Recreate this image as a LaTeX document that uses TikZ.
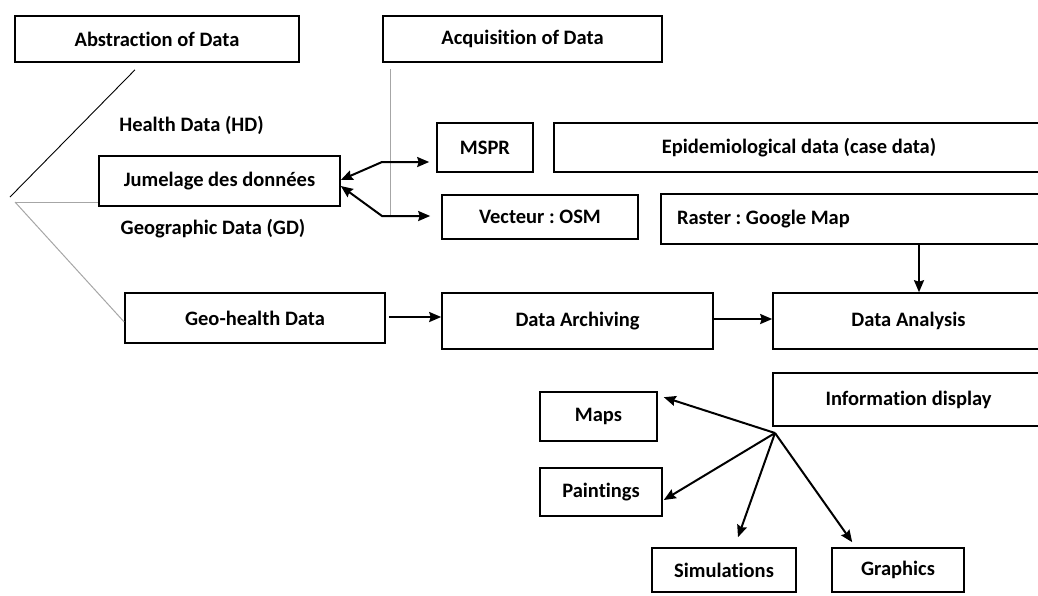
\documentclass[tikz,border=0pt]{standalone}
\usepackage{fontspec}
\setmainfont{Carlito}[Ligatures=NoCommon]
\usetikzlibrary{arrows.meta}

\begin{document}
\begin{tikzpicture}[x=1pt, y=-1pt, >={Stealth[length=12pt, width=10pt, inset=1.5pt]}, node distance=100pt,
	box/.style={draw=black, line width=1.6pt, rectangle, inner sep=0pt, align=center, font=\frenchspacing\bfseries\fontsize{20.5}{24}\selectfont},
	plain/.style={inner sep=0pt, font=\frenchspacing\bfseries\fontsize{20.5}{24}\selectfont},
	link/.style={->, line width=2pt},
	thinline/.style={line width=0.9pt, black},
	greyline/.style={line width=1pt, gray!70}]
	\useasboundingbox (0,0) rectangle (1038,595);

	\node[box, minimum width=284pt, minimum height=46pt] (abstraction) at (157,39) {Abstraction of Data};
	\node[box, minimum width=279pt, minimum height=46pt] (acquisition) [right of=abstraction, node distance=365.5pt] {Acquisition of Data};
	\node[plain] (health) at (191.5,125) {Health Data (HD)};
	\node[box, minimum width=241pt, minimum height=50pt] (jumelage) at (219.5,181) {Jumelage des données};
	\node[plain] (geographic) at (213,229) {Geographic Data (GD)};

	\node[box, minimum width=96pt, minimum height=49pt] (mspr) at (485,147.5) {MSPR};
	\node[box, minimum width=490pt, minimum height=49pt] (epidemio) [right of=mspr, node distance=314pt] {Epidemiological data (case data)};
	\node[box, minimum width=196pt, minimum height=44pt] (vecteur) at (540,217) {Vecteur : OSM};
	\node[box, minimum height=50pt, inner xsep=16pt, text width=351pt, align=flush left] (raster) at (852.5,219) {Raster : Google Map};

	\node[box, minimum width=260pt, minimum height=50pt] (geohealth) at (255,318) {Geo-health Data};
	\node[box, minimum width=271pt, minimum height=56pt] (archiving) at (577.5,321) {Data Archiving};
	\node[box, minimum width=271pt, minimum height=56pt] (analysis) [right of=archiving, node distance=331pt] {Data Analysis};
	\node[box, minimum width=271pt, minimum height=53pt] (display) [below of=analysis, node distance=78.5pt] {Information display};

	\node[box, minimum width=117pt, minimum height=49pt] (maps) at (598.5,416.5) {Maps};
	\node[box, minimum width=122pt, minimum height=48pt] (paintings) at (601,492) {Paintings};
	\node[box, minimum width=144pt, minimum height=44pt] (simulations) at (724,570) {Simulations};
	\node[box, minimum width=132pt, minimum height=44pt] (graphics) [right of=simulations, node distance=174pt] {Graphics};

	% helper points
	\coordinate (tip) at (10,197);
	\coordinate (root) at (15,202);
	\coordinate (upbend) at (382,162);
	\coordinate (lowbend) at (382,216);
	\coordinate (acqline) at (390,69);
	\coordinate (rasfoot) at (919,245);
	\coordinate (fan) at (775,433);

	% abstraction side
	\draw[thinline] ([xshift=-22pt, yshift=-7pt]abstraction.south) -- (tip);
	\draw[greyline] (root) -- (jumelage.west |- root);
	\draw[greyline] (root) -- ([yshift=-4pt]geohealth.west);
	\draw[greyline] (acqline) -- (acqline |- lowbend);

	% acquisition links
	\draw[link, <->, shorten >=7pt] ([yshift=1pt]jumelage.east) -- (upbend) -- (upbend -| mspr.west);
	\draw[link, <->, shorten >=11pt] ([yshift=-5pt]jumelage.east) -- (lowbend) -- (lowbend -| vecteur.west);

	% processing chain
	\draw[link, shorten <=3pt] ([yshift=1pt]geohealth.east) -- ([yshift=1pt]geohealth.east -| archiving.west);
	\draw[link] ([yshift=2pt]archiving.east) -- ([yshift=2pt]analysis.west);
	\draw[link] (rasfoot) -- (rasfoot |- analysis.north);

	% display outputs
	\draw[link] (fan) -- ([xshift=6pt, yshift=-6pt]maps.north east);
	\draw[link] (fan) -- ([xshift=1pt, yshift=-8pt]paintings.east);
	\draw[link] (fan) -- ([xshift=14pt, yshift=10pt]simulations.north);
	\draw[link] (fan) -- ([xshift=21pt, yshift=5pt]graphics.north west);
\end{tikzpicture}
\end{document}
